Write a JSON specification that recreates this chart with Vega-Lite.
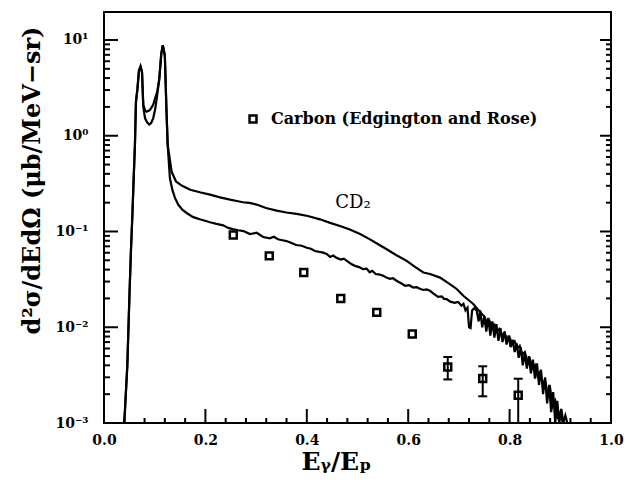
{
  "$schema": "https://vega.github.io/schema/vega-lite/v6.json",
  "width": 507,
  "height": 411,
  "autosize": {"type": "none"},
  "padding": {"left": 104, "top": 12, "right": 14, "bottom": 61},
  "background": "white",
  "config": {
    "view": {"stroke": "black", "strokeWidth": 2},
    "axis": {"grid": false, "domainColor": "black", "domainWidth": 2, "tickColor": "black", "labelColor": "black", "titleColor": "black", "labelFont": "DejaVu Serif", "titleFont": "DejaVu Serif", "labelFontWeight": "bold", "titleFontWeight": "bold", "labelFlush": false, "labelOverlap": false}
  },
  "datasets": {
    "yticks": [
      {"v": 0.001, "kind": "major"}, {"v": 0.01, "kind": "major"}, {"v": 0.1, "kind": "major"}, {"v": 1, "kind": "major"}, {"v": 10, "kind": "major"},
      {"v": 0.002, "kind": "minor"}, {"v": 0.003, "kind": "minor"}, {"v": 0.004, "kind": "minor"}, {"v": 0.005, "kind": "minor"}, {"v": 0.006, "kind": "minor"}, {"v": 0.007, "kind": "minor"}, {"v": 0.008, "kind": "minor"}, {"v": 0.009, "kind": "minor"},
      {"v": 0.02, "kind": "minor"}, {"v": 0.03, "kind": "minor"}, {"v": 0.04, "kind": "minor"}, {"v": 0.05, "kind": "minor"}, {"v": 0.06, "kind": "minor"}, {"v": 0.07, "kind": "minor"}, {"v": 0.08, "kind": "minor"}, {"v": 0.09, "kind": "minor"},
      {"v": 0.2, "kind": "minor"}, {"v": 0.3, "kind": "minor"}, {"v": 0.4, "kind": "minor"}, {"v": 0.5, "kind": "minor"}, {"v": 0.6, "kind": "minor"}, {"v": 0.7, "kind": "minor"}, {"v": 0.8, "kind": "minor"}, {"v": 0.9, "kind": "minor"},
      {"v": 2, "kind": "minor"}, {"v": 3, "kind": "minor"}, {"v": 4, "kind": "minor"}, {"v": 5, "kind": "minor"}, {"v": 6, "kind": "minor"}, {"v": 7, "kind": "minor"}, {"v": 8, "kind": "minor"}, {"v": 9, "kind": "minor"}
    ],
    "xticks": [
      {"x": 0.2, "kind": "major"}, {"x": 0.4, "kind": "major"}, {"x": 0.6, "kind": "major"}, {"x": 0.8, "kind": "major"},
      {"x": 0.04, "kind": "minor"}, {"x": 0.08, "kind": "minor"}, {"x": 0.12, "kind": "minor"}, {"x": 0.16, "kind": "minor"},
      {"x": 0.24, "kind": "minor"}, {"x": 0.28, "kind": "minor"}, {"x": 0.32, "kind": "minor"}, {"x": 0.36, "kind": "minor"},
      {"x": 0.44, "kind": "minor"}, {"x": 0.48, "kind": "minor"}, {"x": 0.52, "kind": "minor"}, {"x": 0.56, "kind": "minor"},
      {"x": 0.64, "kind": "minor"}, {"x": 0.68, "kind": "minor"}, {"x": 0.72, "kind": "minor"}, {"x": 0.76, "kind": "minor"},
      {"x": 0.84, "kind": "minor"}, {"x": 0.88, "kind": "minor"}, {"x": 0.92, "kind": "minor"}, {"x": 0.96, "kind": "minor"}
    ],
    "curves": [
      {"series": "C", "x": 0.040, "v": 0.001},
      {"series": "C", "x": 0.046, "v": 0.004},
      {"series": "C", "x": 0.050, "v": 0.02},
      {"series": "C", "x": 0.053, "v": 0.06},
      {"series": "C", "x": 0.056, "v": 0.15},
      {"series": "C", "x": 0.058, "v": 0.30},
      {"series": "C", "x": 0.061, "v": 0.80},
      {"series": "C", "x": 0.063, "v": 2.26},
      {"series": "C", "x": 0.066, "v": 3.1},
      {"series": "C", "x": 0.069, "v": 4.8},
      {"series": "C", "x": 0.072, "v": 5.3},
      {"series": "C", "x": 0.075, "v": 4.6},
      {"series": "C", "x": 0.0775, "v": 2.0},
      {"series": "C", "x": 0.081, "v": 1.52},
      {"series": "C", "x": 0.085, "v": 1.38},
      {"series": "C", "x": 0.089, "v": 1.31},
      {"series": "C", "x": 0.093, "v": 1.36},
      {"series": "C", "x": 0.097, "v": 1.52},
      {"series": "C", "x": 0.101, "v": 1.9},
      {"series": "C", "x": 0.104, "v": 2.44},
      {"series": "C", "x": 0.109, "v": 3.9},
      {"series": "C", "x": 0.113, "v": 7.2},
      {"series": "C", "x": 0.116, "v": 8.8},
      {"series": "C", "x": 0.120, "v": 6.9},
      {"series": "C", "x": 0.123, "v": 2.0},
      {"series": "C", "x": 0.1256, "v": 0.80},
      {"series": "C", "x": 0.130, "v": 0.36},
      {"series": "C", "x": 0.135, "v": 0.27},
      {"series": "C", "x": 0.140, "v": 0.224},
      {"series": "C", "x": 0.1466, "v": 0.19},
      {"series": "C", "x": 0.155, "v": 0.168},
      {"series": "C", "x": 0.163, "v": 0.156},
      {"series": "C", "x": 0.175, "v": 0.142},
      {"series": "C", "x": 0.189, "v": 0.134},
      {"series": "C", "x": 0.2026, "v": 0.128},
      {"series": "C", "x": 0.209, "v": 0.125},
      {"series": "C", "x": 0.222, "v": 0.12},
      {"series": "C", "x": 0.235, "v": 0.116},
      {"series": "C", "x": 0.245, "v": 0.109},
      {"series": "C", "x": 0.254, "v": 0.106},
      {"series": "C", "x": 0.265, "v": 0.103},
      {"series": "C", "x": 0.275, "v": 0.101},
      {"series": "C", "x": 0.288, "v": 0.094},
      {"series": "C", "x": 0.301, "v": 0.097},
      {"series": "C", "x": 0.314, "v": 0.0875},
      {"series": "C", "x": 0.327, "v": 0.0847},
      {"series": "C", "x": 0.335, "v": 0.088},
      {"series": "C", "x": 0.343, "v": 0.083},
      {"series": "C", "x": 0.352, "v": 0.081},
      {"series": "C", "x": 0.360, "v": 0.0794},
      {"series": "C", "x": 0.370, "v": 0.076},
      {"series": "C", "x": 0.379, "v": 0.0723},
      {"series": "C", "x": 0.390, "v": 0.071},
      {"series": "C", "x": 0.400, "v": 0.0677},
      {"series": "C", "x": 0.408, "v": 0.066},
      {"series": "C", "x": 0.416, "v": 0.0626},
      {"series": "C", "x": 0.4325, "v": 0.0601},
      {"series": "C", "x": 0.440, "v": 0.058},
      {"series": "C", "x": 0.446, "v": 0.0542},
      {"series": "C", "x": 0.452, "v": 0.056},
      {"series": "C", "x": 0.459, "v": 0.053},
      {"series": "C", "x": 0.467, "v": 0.051},
      {"series": "C", "x": 0.473, "v": 0.052},
      {"series": "C", "x": 0.479, "v": 0.0493},
      {"series": "C", "x": 0.487, "v": 0.046},
      {"series": "C", "x": 0.495, "v": 0.0437},
      {"series": "C", "x": 0.503, "v": 0.0425},
      {"series": "C", "x": 0.511, "v": 0.0404},
      {"series": "C", "x": 0.518, "v": 0.041},
      {"series": "C", "x": 0.524, "v": 0.0375},
      {"series": "C", "x": 0.529, "v": 0.0388},
      {"series": "C", "x": 0.536, "v": 0.036},
      {"series": "C", "x": 0.544, "v": 0.0355},
      {"series": "C", "x": 0.551, "v": 0.0344},
      {"series": "C", "x": 0.557, "v": 0.033},
      {"series": "C", "x": 0.564, "v": 0.032},
      {"series": "C", "x": 0.570, "v": 0.0325},
      {"series": "C", "x": 0.577, "v": 0.0306},
      {"series": "C", "x": 0.585, "v": 0.029},
      {"series": "C", "x": 0.594, "v": 0.0271},
      {"series": "C", "x": 0.602, "v": 0.0275},
      {"series": "C", "x": 0.610, "v": 0.026},
      {"series": "C", "x": 0.617, "v": 0.0262},
      {"series": "C", "x": 0.623, "v": 0.0252},
      {"series": "C", "x": 0.630, "v": 0.0245},
      {"series": "C", "x": 0.636, "v": 0.0248},
      {"series": "C", "x": 0.643, "v": 0.0240},
      {"series": "C", "x": 0.650, "v": 0.0225},
      {"series": "C", "x": 0.659, "v": 0.0208},
      {"series": "C", "x": 0.666, "v": 0.021},
      {"series": "C", "x": 0.671, "v": 0.0198},
      {"series": "C", "x": 0.676, "v": 0.0197},
      {"series": "C", "x": 0.683, "v": 0.0185},
      {"series": "C", "x": 0.692, "v": 0.018},
      {"series": "C", "x": 0.698, "v": 0.0184},
      {"series": "C", "x": 0.700, "v": 0.0180},
      {"series": "C", "x": 0.705, "v": 0.0168},
      {"series": "C", "x": 0.709, "v": 0.0176},
      {"series": "C", "x": 0.713, "v": 0.0150},
      {"series": "C", "x": 0.717, "v": 0.0160},
      {"series": "C", "x": 0.720, "v": 0.0100},
      {"series": "C", "x": 0.723, "v": 0.0098},
      {"series": "C", "x": 0.726, "v": 0.0150},
      {"series": "C", "x": 0.730, "v": 0.0158},
      {"series": "C", "x": 0.735, "v": 0.0150},
      {"series": "C", "x": 0.739, "v": 0.0115},
      {"series": "C", "x": 0.742, "v": 0.0150},
      {"series": "C", "x": 0.746, "v": 0.0100},
      {"series": "C", "x": 0.750, "v": 0.0130},
      {"series": "C", "x": 0.754, "v": 0.0090},
      {"series": "C", "x": 0.758, "v": 0.0125},
      {"series": "C", "x": 0.762, "v": 0.0082},
      {"series": "C", "x": 0.766, "v": 0.0115},
      {"series": "C", "x": 0.770, "v": 0.0078},
      {"series": "C", "x": 0.774, "v": 0.0108},
      {"series": "C", "x": 0.778, "v": 0.0072},
      {"series": "C", "x": 0.782, "v": 0.0098},
      {"series": "C", "x": 0.786, "v": 0.0070},
      {"series": "C", "x": 0.790, "v": 0.0090},
      {"series": "C", "x": 0.794, "v": 0.0066},
      {"series": "C", "x": 0.798, "v": 0.0082},
      {"series": "C", "x": 0.802, "v": 0.0062},
      {"series": "C", "x": 0.806, "v": 0.0074},
      {"series": "C", "x": 0.810, "v": 0.0055},
      {"series": "C", "x": 0.814, "v": 0.0068},
      {"series": "C", "x": 0.818, "v": 0.0048},
      {"series": "C", "x": 0.822, "v": 0.0062},
      {"series": "C", "x": 0.826, "v": 0.0040},
      {"series": "C", "x": 0.830, "v": 0.0054},
      {"series": "C", "x": 0.834, "v": 0.0037},
      {"series": "C", "x": 0.838, "v": 0.0050},
      {"series": "C", "x": 0.842, "v": 0.0033},
      {"series": "C", "x": 0.846, "v": 0.0046},
      {"series": "C", "x": 0.850, "v": 0.0029},
      {"series": "C", "x": 0.854, "v": 0.0042},
      {"series": "C", "x": 0.858, "v": 0.0025},
      {"series": "C", "x": 0.862, "v": 0.0036},
      {"series": "C", "x": 0.866, "v": 0.0020},
      {"series": "C", "x": 0.870, "v": 0.0030},
      {"series": "C", "x": 0.874, "v": 0.0016},
      {"series": "C", "x": 0.878, "v": 0.0025},
      {"series": "C", "x": 0.882, "v": 0.0013},
      {"series": "C", "x": 0.886, "v": 0.0021},
      {"series": "C", "x": 0.890, "v": 0.0010},
      {"series": "C", "x": 0.894, "v": 0.0017},
      {"series": "C", "x": 0.898, "v": 0.0010},
      {"series": "C", "x": 0.902, "v": 0.0014},
      {"series": "C", "x": 0.906, "v": 0.0010},
      {"series": "C", "x": 0.910, "v": 0.0012},
      {"series": "C", "x": 0.914, "v": 0.0010},
      {"series": "CD2", "x": 0.040, "v": 0.001},
      {"series": "CD2", "x": 0.046, "v": 0.004},
      {"series": "CD2", "x": 0.050, "v": 0.02},
      {"series": "CD2", "x": 0.053, "v": 0.06},
      {"series": "CD2", "x": 0.056, "v": 0.15},
      {"series": "CD2", "x": 0.058, "v": 0.30},
      {"series": "CD2", "x": 0.061, "v": 0.80},
      {"series": "CD2", "x": 0.063, "v": 2.26},
      {"series": "CD2", "x": 0.066, "v": 3.1},
      {"series": "CD2", "x": 0.069, "v": 4.8},
      {"series": "CD2", "x": 0.072, "v": 5.3},
      {"series": "CD2", "x": 0.075, "v": 4.6},
      {"series": "CD2", "x": 0.0775, "v": 2.1},
      {"series": "CD2", "x": 0.081, "v": 1.85},
      {"series": "CD2", "x": 0.084, "v": 1.78},
      {"series": "CD2", "x": 0.088, "v": 1.82},
      {"series": "CD2", "x": 0.091, "v": 1.87},
      {"series": "CD2", "x": 0.097, "v": 2.1},
      {"series": "CD2", "x": 0.1006, "v": 2.44},
      {"series": "CD2", "x": 0.105, "v": 2.9},
      {"series": "CD2", "x": 0.109, "v": 3.9},
      {"series": "CD2", "x": 0.113, "v": 7.2},
      {"series": "CD2", "x": 0.116, "v": 8.8},
      {"series": "CD2", "x": 0.120, "v": 6.9},
      {"series": "CD2", "x": 0.123, "v": 2.0},
      {"series": "CD2", "x": 0.1256, "v": 0.80},
      {"series": "CD2", "x": 0.1335, "v": 0.42},
      {"series": "CD2", "x": 0.142, "v": 0.333},
      {"series": "CD2", "x": 0.150, "v": 0.31},
      {"series": "CD2", "x": 0.156, "v": 0.296},
      {"series": "CD2", "x": 0.170, "v": 0.273},
      {"series": "CD2", "x": 0.189, "v": 0.257},
      {"series": "CD2", "x": 0.209, "v": 0.243},
      {"series": "CD2", "x": 0.229, "v": 0.227},
      {"series": "CD2", "x": 0.2485, "v": 0.215},
      {"series": "CD2", "x": 0.262, "v": 0.208},
      {"series": "CD2", "x": 0.274, "v": 0.202},
      {"series": "CD2", "x": 0.287, "v": 0.199},
      {"series": "CD2", "x": 0.301, "v": 0.191},
      {"series": "CD2", "x": 0.3195, "v": 0.176},
      {"series": "CD2", "x": 0.3406, "v": 0.165},
      {"series": "CD2", "x": 0.360, "v": 0.158},
      {"series": "CD2", "x": 0.380, "v": 0.153},
      {"series": "CD2", "x": 0.402, "v": 0.145},
      {"series": "CD2", "x": 0.426, "v": 0.134},
      {"series": "CD2", "x": 0.446, "v": 0.123},
      {"series": "CD2", "x": 0.4655, "v": 0.114},
      {"series": "CD2", "x": 0.485, "v": 0.105},
      {"series": "CD2", "x": 0.505, "v": 0.094},
      {"series": "CD2", "x": 0.5247, "v": 0.0828},
      {"series": "CD2", "x": 0.540, "v": 0.074},
      {"series": "CD2", "x": 0.5576, "v": 0.0652},
      {"series": "CD2", "x": 0.576, "v": 0.0569},
      {"series": "CD2", "x": 0.597, "v": 0.0493},
      {"series": "CD2", "x": 0.6134, "v": 0.0427},
      {"series": "CD2", "x": 0.630, "v": 0.0373},
      {"series": "CD2", "x": 0.643, "v": 0.036},
      {"series": "CD2", "x": 0.6627, "v": 0.033},
      {"series": "CD2", "x": 0.6785, "v": 0.0291},
      {"series": "CD2", "x": 0.6957, "v": 0.0251},
      {"series": "CD2", "x": 0.7087, "v": 0.0213},
      {"series": "CD2", "x": 0.7284, "v": 0.0175},
      {"series": "CD2", "x": 0.745, "v": 0.0138},
      {"series": "CD2", "x": 0.750, "v": 0.0130},
      {"series": "CD2", "x": 0.755, "v": 0.0112},
      {"series": "CD2", "x": 0.760, "v": 0.0118},
      {"series": "CD2", "x": 0.765, "v": 0.0100},
      {"series": "CD2", "x": 0.770, "v": 0.0106},
      {"series": "CD2", "x": 0.775, "v": 0.0090},
      {"series": "CD2", "x": 0.780, "v": 0.0096},
      {"series": "CD2", "x": 0.785, "v": 0.0082},
      {"series": "CD2", "x": 0.790, "v": 0.0088},
      {"series": "CD2", "x": 0.795, "v": 0.0074},
      {"series": "CD2", "x": 0.800, "v": 0.0079},
      {"series": "CD2", "x": 0.805, "v": 0.0066},
      {"series": "CD2", "x": 0.810, "v": 0.0071},
      {"series": "CD2", "x": 0.815, "v": 0.0060},
      {"series": "CD2", "x": 0.820, "v": 0.0064},
      {"series": "CD2", "x": 0.825, "v": 0.0052},
      {"series": "CD2", "x": 0.830, "v": 0.0055},
      {"series": "CD2", "x": 0.835, "v": 0.0044},
      {"series": "CD2", "x": 0.840, "v": 0.0047},
      {"series": "CD2", "x": 0.845, "v": 0.0037},
      {"series": "CD2", "x": 0.850, "v": 0.0040},
      {"series": "CD2", "x": 0.855, "v": 0.0031},
      {"series": "CD2", "x": 0.860, "v": 0.0034},
      {"series": "CD2", "x": 0.865, "v": 0.0026},
      {"series": "CD2", "x": 0.870, "v": 0.0028},
      {"series": "CD2", "x": 0.875, "v": 0.0020},
      {"series": "CD2", "x": 0.880, "v": 0.0023},
      {"series": "CD2", "x": 0.885, "v": 0.0015},
      {"series": "CD2", "x": 0.890, "v": 0.0017},
      {"series": "CD2", "x": 0.895, "v": 0.0011},
      {"series": "CD2", "x": 0.900, "v": 0.0013},
      {"series": "CD2", "x": 0.905, "v": 0.0010}
    ],
    "pts": [
      {"x": 0.255, "v": 0.092},
      {"x": 0.326, "v": 0.0556},
      {"x": 0.394, "v": 0.0373},
      {"x": 0.467, "v": 0.020},
      {"x": 0.538, "v": 0.0143},
      {"x": 0.608, "v": 0.0085},
      {"x": 0.678, "v": 0.00385, "lo": 0.00285, "hi": 0.00489},
      {"x": 0.747, "v": 0.00291, "lo": 0.0019, "hi": 0.00391},
      {"x": 0.817, "v": 0.00195, "lo": 0.001, "hi": 0.0029}
    ]
  },
  "layer": [
    {
      "data": {"name": "curves"},
      "mark": {"type": "line", "color": "black", "strokeWidth": 2.2},
      "encoding": {
        "x": {"field": "x", "type": "quantitative", "scale": {"domain": [0, 1], "nice": false, "zero": false},
          "axis": {"orient": "bottom", "values": [0, 0.2, 0.4, 0.6, 0.8, 1], "format": ".1f", "ticks": false, "domain": false, "labelPadding": 10, "labelFontSize": 14,
            "title": "Eᵧ/Eₚ", "titleFontSize": 25, "titleX": 232, "titleY": 46, "titleAlign": "center", "titleBaseline": "alphabetic"}},
        "y": {"field": "v", "type": "quantitative", "scale": {"type": "log", "domain": [0.001, 19.6], "nice": false},
          "axis": {"orient": "left", "values": [0.001, 0.01, 0.1, 1, 10], "ticks": false, "domain": false, "labelPadding": 16, "labelFontSize": 14,
            "labelExpr": "datum.value >= 5 ? '10¹' : datum.value >= 0.5 ? '10⁰' : datum.value >= 0.05 ? '10⁻¹' : datum.value >= 0.005 ? '10⁻²' : '10⁻³'",
            "title": "d²σ/dEdΩ (μb/MeV−sr)", "titleFontSize": 24, "titleX": -72, "titleY": 168, "titleAngle": -90, "titleAlign": "center", "titleBaseline": "middle"}},
        "detail": {"field": "series"}
      }
    },
    {
      "data": {"name": "yticks"},
      "transform": [{"filter": "datum.kind == 'major'"}],
      "mark": {"type": "tick", "orient": "horizontal", "color": "black", "size": 14, "thickness": 2, "xOffset": 7, "opacity": 1},
      "encoding": {
        "x": {"datum": 0, "type": "quantitative", "scale": {"domain": [0, 1], "nice": false, "zero": false}, "axis": null},
        "y": {"field": "v", "type": "quantitative", "scale": {"type": "log", "domain": [0.001, 19.6], "nice": false}, "axis": null}
      }
    },
    {
      "data": {"name": "yticks"},
      "transform": [{"filter": "datum.kind == 'minor'"}],
      "mark": {"type": "tick", "orient": "horizontal", "color": "black", "size": 6, "thickness": 2, "xOffset": 3, "opacity": 1},
      "encoding": {
        "x": {"datum": 0, "type": "quantitative", "scale": {"domain": [0, 1], "nice": false, "zero": false}, "axis": null},
        "y": {"field": "v", "type": "quantitative", "scale": {"type": "log", "domain": [0.001, 19.6], "nice": false}, "axis": null}
      }
    },
    {
      "data": {"name": "yticks"},
      "transform": [{"filter": "datum.kind == 'major'"}],
      "mark": {"type": "tick", "orient": "horizontal", "color": "black", "size": 11, "thickness": 2, "xOffset": -5.5, "opacity": 1},
      "encoding": {
        "x": {"datum": 1, "type": "quantitative", "scale": {"domain": [0, 1], "nice": false, "zero": false}, "axis": null},
        "y": {"field": "v", "type": "quantitative", "scale": {"type": "log", "domain": [0.001, 19.6], "nice": false}, "axis": null}
      }
    },
    {
      "data": {"name": "yticks"},
      "transform": [{"filter": "datum.kind == 'minor'"}],
      "mark": {"type": "tick", "orient": "horizontal", "color": "black", "size": 5, "thickness": 2, "xOffset": -2.5, "opacity": 1},
      "encoding": {
        "x": {"datum": 1, "type": "quantitative", "scale": {"domain": [0, 1], "nice": false, "zero": false}, "axis": null},
        "y": {"field": "v", "type": "quantitative", "scale": {"type": "log", "domain": [0.001, 19.6], "nice": false}, "axis": null}
      }
    },
    {
      "data": {"name": "xticks"},
      "transform": [{"filter": "datum.kind == 'major'"}],
      "mark": {"type": "tick", "orient": "vertical", "color": "black", "size": 14, "thickness": 2, "yOffset": -7, "opacity": 1},
      "encoding": {
        "x": {"field": "x", "type": "quantitative", "scale": {"domain": [0, 1], "nice": false, "zero": false}, "axis": null},
        "y": {"datum": 0.001, "type": "quantitative", "scale": {"type": "log", "domain": [0.001, 19.6], "nice": false}, "axis": null}
      }
    },
    {
      "data": {"name": "xticks"},
      "transform": [{"filter": "datum.kind == 'minor'"}],
      "mark": {"type": "tick", "orient": "vertical", "color": "black", "size": 5, "thickness": 2, "yOffset": -2.5, "opacity": 1},
      "encoding": {
        "x": {"field": "x", "type": "quantitative", "scale": {"domain": [0, 1], "nice": false, "zero": false}, "axis": null},
        "y": {"datum": 0.001, "type": "quantitative", "scale": {"type": "log", "domain": [0.001, 19.6], "nice": false}, "axis": null}
      }
    },
    {
      "data": {"name": "pts"},
      "mark": {"type": "point", "shape": "square", "filled": false, "color": "black", "opacity": 1, "strokeWidth": 2.5, "size": 48},
      "encoding": {
        "x": {"field": "x", "type": "quantitative", "scale": {"domain": [0, 1], "nice": false, "zero": false}, "axis": null},
        "y": {"field": "v", "type": "quantitative", "scale": {"type": "log", "domain": [0.001, 19.6], "nice": false}, "axis": null},
        "shape": {"datum": "Carbon (Edgington and Rose)", "type": "nominal", "scale": {"range": ["square"]},
          "legend": {"orient": "none", "legendX": 141, "legendY": 99, "title": null, "padding": 0, "labelFont": "DejaVu Serif", "labelFontWeight": "bold", "labelFontSize": 16, "labelLimit": 500, "labelColor": "black", "symbolStrokeColor": "black", "symbolStrokeWidth": 2.5, "symbolSize": 48, "symbolFillColor": "white", "symbolOpacity": 1, "labelOffset": 10}}
      }
    },
    {
      "data": {"values": [{"label": "CD₂"}]},
      "mark": {"type": "text", "font": "DejaVu Serif", "fontSize": 18, "color": "black", "align": "center", "baseline": "middle"},
      "encoding": {
        "x": {"datum": 0.491, "type": "quantitative", "scale": {"domain": [0, 1], "nice": false, "zero": false}, "axis": null},
        "y": {"datum": 0.197, "type": "quantitative", "scale": {"type": "log", "domain": [0.001, 19.6], "nice": false}, "axis": null},
        "text": {"field": "label"}
      }
    },
    {
      "data": {"name": "pts"},
      "transform": [{"filter": "datum.lo != null"}],
      "mark": {"type": "rule", "color": "black", "strokeWidth": 2},
      "encoding": {
        "x": {"field": "x", "type": "quantitative", "scale": {"domain": [0, 1], "nice": false, "zero": false}, "axis": null},
        "y": {"field": "lo", "type": "quantitative", "scale": {"type": "log", "domain": [0.001, 19.6], "nice": false}, "axis": null},
        "y2": {"field": "hi"}
      }
    },
    {
      "data": {"name": "pts"},
      "transform": [{"filter": "datum.lo != null"}],
      "mark": {"type": "tick", "orient": "horizontal", "color": "black", "size": 9, "thickness": 2, "opacity": 1},
      "encoding": {
        "x": {"field": "x", "type": "quantitative", "scale": {"domain": [0, 1], "nice": false, "zero": false}, "axis": null},
        "y": {"field": "hi", "type": "quantitative", "scale": {"type": "log", "domain": [0.001, 19.6], "nice": false}, "axis": null}
      }
    },
    {
      "data": {"name": "pts"},
      "transform": [{"filter": "datum.lo != null"}],
      "mark": {"type": "tick", "orient": "horizontal", "color": "black", "size": 9, "thickness": 2, "opacity": 1},
      "encoding": {
        "x": {"field": "x", "type": "quantitative", "scale": {"domain": [0, 1], "nice": false, "zero": false}, "axis": null},
        "y": {"field": "lo", "type": "quantitative", "scale": {"type": "log", "domain": [0.001, 19.6], "nice": false}, "axis": null}
      }
    }
  ],
  "resolve": {"axis": {"x": "independent", "y": "independent"}}
}
